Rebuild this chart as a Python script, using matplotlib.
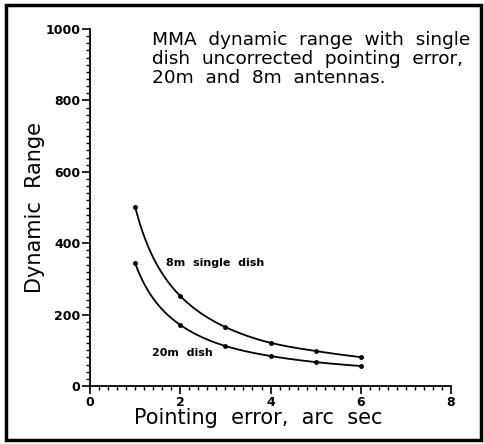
import numpy as np
import matplotlib
matplotlib.use('Agg')
from matplotlib import pyplot as plt
from matplotlib.patches import Rectangle
from matplotlib.ticker import MultipleLocator

# pointing error (arc sec)
pointing = [1, 2, 3, 4, 5, 6]
# dynamic range
dr_8m = [502, 252, 165, 121, 98, 81]
dr_20m = [344, 171, 112, 84, 67, 56]

title_text = 'MMA  dynamic  range  with  single\ndish  uncorrected  pointing  error,\n20m  and  8m  antennas.'


# smooth line through the points, catmull-rom done in log-log space
def smooth_line(xs, ys, steps=30):
    pts = np.log(np.column_stack([xs, ys]).astype(float))
    n = len(pts)
    out = [pts[0]]
    t = np.linspace(0, 1, steps)[1:, None]
    for i in range(n - 1):
        p0 = pts[i - 1] if i > 0 else 2 * pts[i] - pts[i + 1]
        p1 = pts[i]
        p2 = pts[i + 1]
        p3 = pts[i + 2] if i + 2 < n else 2 * pts[i + 1] - pts[i]
        c1 = p1 + (p2 - p0) / 6.0
        c2 = p2 - (p3 - p1) / 6.0
        seg = ((1 - t) ** 3) * p1 + 3 * ((1 - t) ** 2) * t * c1 + 3 * (1 - t) * t ** 2 * c2 + t ** 3 * p2
        out.extend(seg)
    out = np.exp(np.array(out))
    return out[:, 0], out[:, 1]


fig = plt.figure(figsize=(4.85, 4.44), dpi=100)
ax = fig.add_axes([0.1856, 0.1306, 0.7444, 0.8041])

for vals in (dr_8m, dr_20m):
    sx, sy = smooth_line(pointing, vals)
    ax.plot(sx, sy, color='black', lw=1.3)
    ax.plot(pointing, vals, 'o', color='black', ms=2.5)

ax.set_xlim(0, 8)
ax.set_ylim(0, 1000)
ax.xaxis.set_major_locator(MultipleLocator(2))
ax.xaxis.set_minor_locator(MultipleLocator(0.2))
ax.yaxis.set_major_locator(MultipleLocator(200))
ax.yaxis.set_minor_locator(MultipleLocator(20))
ax.spines['top'].set_visible(False)
ax.spines['right'].set_visible(False)
for s in ['left', 'bottom']:
    ax.spines[s].set_linewidth(1.3)
ax.tick_params(which='major', length=6, width=1.2, labelsize=9, pad=1)
ax.tick_params(which='minor', length=3, width=1.0)
for lab in ax.get_xticklabels() + ax.get_yticklabels():
    lab.set_fontweight('bold')

ax.set_xlabel('Pointing  error,  arc  sec', fontsize=15)
ax.xaxis.set_label_coords(0.465, -0.09, transform=ax.transAxes)
ax.xaxis.label.set_va('center')
ax.set_ylabel('Dynamic  Range', fontsize=15, labelpad=0)

ax.text(1.68, 345, '8m  single  dish', fontsize=8, fontweight='bold', va='center')
ax.text(1.37, 92, '20m  dish', fontsize=8, fontweight='bold', va='center')
ax.text(1.37, 994, title_text, fontsize=13.3, va='top', linespacing=1.05)

fig.patches.append(Rectangle((0.012, 0.008), 0.98, 0.98, transform=fig.transFigure,
                             fill=False, lw=2.5, color='black'))

fig.savefig('out.png', dpi=100)
